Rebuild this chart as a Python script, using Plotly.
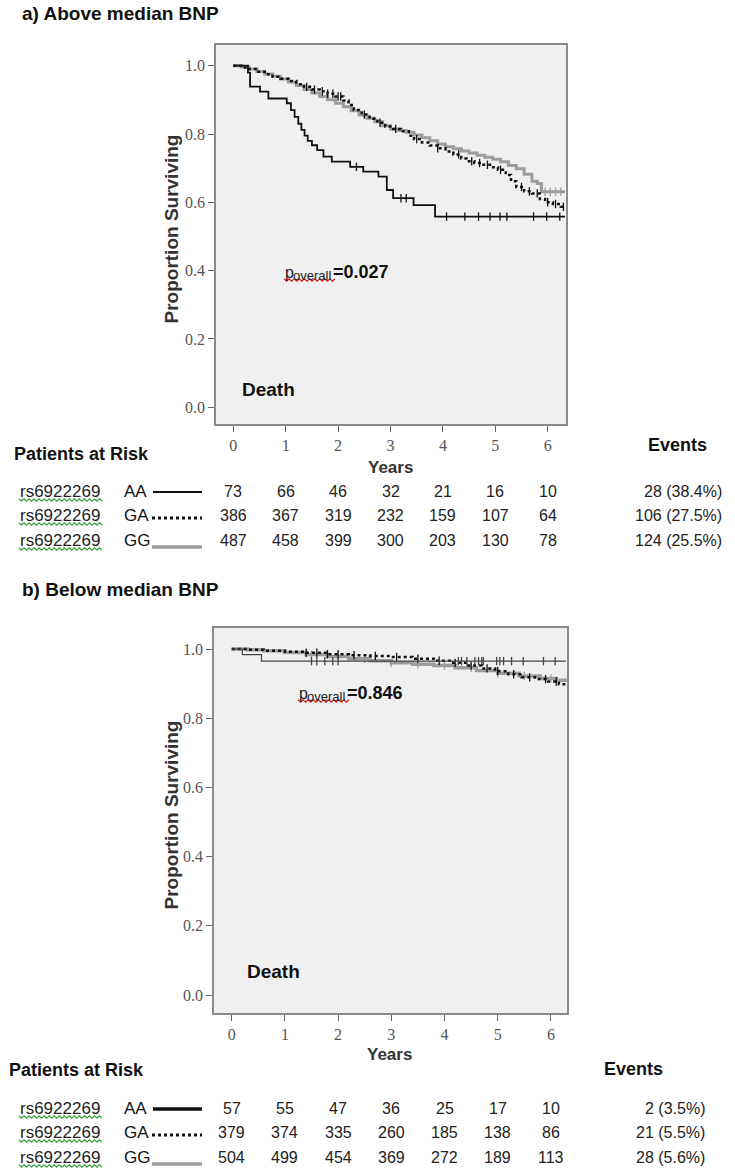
import numpy as np
import plotly.graph_objects as go

# ---------------- DATA ----------------
years_ticks = [0, 1, 2, 3, 4, 5, 6]
genotypes = ["AA", "GA", "GG"]
snp = "rs6922269"

# a) Above median BNP  (Kaplan-Meier step points: time, survival)
a_AA_t = [0, 0.28, 0.32, 0.51, 0.67, 1.02, 1.10, 1.17, 1.24, 1.30, 1.36, 1.42, 1.50, 1.60, 1.72, 1.88, 2.23, 2.48, 2.77, 2.93, 3.05, 3.44, 3.85, 6.33]
a_AA_s = [1.0, 0.980, 0.939, 0.924, 0.904, 0.890, 0.870, 0.850, 0.830, 0.812, 0.795, 0.780, 0.767, 0.753, 0.734, 0.719, 0.704, 0.690, 0.675, 0.636, 0.612, 0.592, 0.558, 0.558]
a_AA_cens = [2.35, 3.2, 3.3, 4.07, 4.42, 4.68, 4.90, 5.09, 5.22, 5.73, 5.98, 6.23]

a_GA_t = [0, 0.15, 0.30, 0.45, 0.60, 0.75, 0.90, 1.05, 1.20, 1.35, 1.50, 1.65, 1.80, 1.95, 2.10, 2.20, 2.30, 2.45, 2.60, 2.75, 2.90, 3.05, 3.20, 3.35, 3.45, 3.60, 3.75, 3.90, 4.05, 4.20, 4.35, 4.45, 4.60, 4.75, 4.90, 5.05, 5.20, 5.30, 5.40, 5.55, 5.70, 5.85, 5.95, 6.10, 6.25, 6.33]
a_GA_s = [1.0, 0.995, 0.990, 0.982, 0.975, 0.968, 0.962, 0.955, 0.946, 0.938, 0.930, 0.925, 0.918, 0.910, 0.898, 0.885, 0.870, 0.857, 0.845, 0.833, 0.822, 0.815, 0.808, 0.795, 0.785, 0.775, 0.766, 0.758, 0.749, 0.740, 0.728, 0.720, 0.715, 0.710, 0.703, 0.695, 0.680, 0.662, 0.645, 0.632, 0.626, 0.610, 0.600, 0.595, 0.587, 0.587]
a_GA_cens = [1.4, 1.55, 1.7, 1.8, 1.9, 2.0, 2.05, 2.5, 2.8, 3.1, 3.5, 3.9, 4.3, 4.55, 4.7, 4.85, 5.1, 5.5, 5.65, 5.8, 6.0, 6.15, 6.3]

a_GG_t = [0, 0.15, 0.30, 0.45, 0.60, 0.75, 0.90, 1.05, 1.20, 1.35, 1.50, 1.65, 1.80, 1.95, 2.10, 2.25, 2.40, 2.55, 2.70, 2.85, 3.00, 3.15, 3.30, 3.45, 3.60, 3.75, 3.90, 4.05, 4.20, 4.35, 4.50, 4.65, 4.80, 4.95, 5.10, 5.25, 5.40, 5.55, 5.70, 5.80, 5.88, 6.33]
a_GG_s = [1.0, 0.996, 0.990, 0.983, 0.976, 0.969, 0.961, 0.952, 0.942, 0.930, 0.920, 0.910, 0.900, 0.890, 0.880, 0.868, 0.856, 0.846, 0.836, 0.824, 0.815, 0.810, 0.805, 0.797, 0.789, 0.780, 0.771, 0.763, 0.757, 0.750, 0.744, 0.738, 0.732, 0.726, 0.719, 0.708, 0.698, 0.682, 0.662, 0.655, 0.631, 0.631]
a_GG_cens = [5.95, 6.05, 6.15, 6.25]

a_risk = {"AA": [73, 66, 46, 32, 21, 16, 10],
          "GA": [386, 367, 319, 232, 159, 107, 64],
          "GG": [487, 458, 399, 300, 203, 130, 78]}
a_events = {"AA": "28 (38.4%)", "GA": "106 (27.5%)", "GG": "124 (25.5%)"}
a_p = "0.027"

# b) Below median BNP
b_AA_t = [0, 0.20, 0.56, 6.28]
b_AA_s = [1.0, 0.984, 0.965, 0.965]
b_AA_cens = [1.5, 1.6, 1.75, 1.9, 2.0, 4.26, 4.32, 4.42, 4.57, 4.64, 4.70, 4.73, 4.98, 5.04, 5.11, 5.26, 5.48, 5.86, 6.08]

b_GA_t = [0, 0.3, 0.6, 1.0, 1.4, 1.8, 2.2, 2.6, 3.0, 3.4, 3.8, 4.1, 4.4, 4.7, 4.95, 5.2, 5.45, 5.7, 5.95, 6.15, 6.28]
b_GA_s = [1.0, 0.998, 0.995, 0.992, 0.989, 0.985, 0.982, 0.980, 0.977, 0.972, 0.966, 0.960, 0.952, 0.944, 0.936, 0.927, 0.918, 0.913, 0.906, 0.898, 0.890]
b_GA_cens = [1.4, 1.6, 1.8, 2.0, 2.3, 2.7, 3.1, 3.5, 3.9, 4.2, 4.5, 4.8, 5.0, 5.3, 5.6, 5.9, 6.1]

b_GG_t = [0, 0.3, 0.6, 1.0, 1.4, 1.8, 2.2, 2.6, 3.0, 3.4, 3.8, 4.2, 4.6, 5.0, 5.4, 5.8, 6.1, 6.28]
b_GG_s = [1.0, 0.998, 0.995, 0.990, 0.984, 0.978, 0.972, 0.966, 0.960, 0.956, 0.952, 0.946, 0.938, 0.930, 0.922, 0.915, 0.910, 0.905]
b_GG_cens = [1.5, 2.0, 2.5, 3.0, 3.5, 4.0, 4.5, 5.0, 5.5, 6.0]

b_risk = {"AA": [57, 55, 47, 36, 25, 17, 10],
          "GA": [379, 374, 335, 260, 185, 138, 86],
          "GG": [504, 499, 454, 369, 272, 189, 113]}
b_events = {"AA": "2 (3.5%)", "GA": "21 (5.5%)", "GG": "28 (5.6%)"}
b_p = "0.846"

# ---------------- LAYOUT HELPERS ----------------
W, H = 735, 1175
def X(px): return px / W
def Y(py): return 1 - py / H

BLACK = "#111111"
GRAY = "#9c9c9c"
SANS = "Liberation Sans, Arial, sans-serif"
SERIF = "Liberation Serif, DejaVu Serif, serif"

fig = go.Figure()

def step_at(t, s, x):
    idx = np.searchsorted(np.array(t), np.array(x), side="right") - 1
    return [s[i] for i in idx]

def add_curve(t, s, cens, color, width, dash, xa, ya):
    fig.add_trace(go.Scatter(x=t, y=s, mode="lines", line_shape="hv",
                             line=dict(color=color, width=width, dash=dash),
                             xaxis=xa, yaxis=ya, showlegend=False, hoverinfo="skip"))
    fig.add_trace(go.Scatter(x=cens, y=step_at(t, s, cens), mode="markers",
                             marker=dict(symbol="line-ns", size=6,
                                         line=dict(color=color, width=1.3)),
                             xaxis=xa, yaxis=ya, showlegend=False, hoverinfo="skip"))

# panel a
add_curve(a_GG_t, a_GG_s, a_GG_cens, GRAY, 3, "solid", "x", "y")
add_curve(a_GA_t, a_GA_s, a_GA_cens, BLACK, 2.5, "dot", "x", "y")
add_curve(a_AA_t, a_AA_s, a_AA_cens, BLACK, 1.8, "solid", "x", "y")
# panel b
add_curve(b_GG_t, b_GG_s, b_GG_cens, GRAY, 3.5, "solid", "x2", "y2")
add_curve(b_GA_t, b_GA_s, b_GA_cens, BLACK, 2.5, "dot", "x2", "y2")
add_curve(b_AA_t, b_AA_s, b_AA_cens, "#444444", 1.2, "solid", "x2", "y2")

axis_common = dict(showgrid=False, zeroline=False, showline=True, mirror=True,
                   linecolor="#8a8a8a", linewidth=1.5, ticks="outside", ticklen=6,
                   tickcolor="#666666", tickwidth=1.2,
                   tickfont=dict(family=SERIF, size=16, color="#555555"))

# panel geometry (pixels)
a_box = dict(l=216, r=566, t=45, b=424, x0px=233.3, xpy=52.4, y1px=65.7, ypu=341.5)
b_box = dict(l=214, r=567, t=628, b=1013, x0px=231.7, xpy=53.2, y1px=649.0, ypu=346.0)

def ranges(bx):
    xr = [(bx["l"] - bx["x0px"]) / bx["xpy"], (bx["r"] - bx["x0px"]) / bx["xpy"]]
    yr = [1 - (bx["b"] - bx["y1px"]) / bx["ypu"], 1 + (bx["y1px"] - bx["t"]) / bx["ypu"]]
    return xr, yr

axr, ayr = ranges(a_box)
bxr, byr = ranges(b_box)

fig.update_layout(
    width=W, height=H, margin=dict(l=0, r=0, t=0, b=0),
    paper_bgcolor="white", plot_bgcolor="#f0f0f0",
    xaxis=dict(domain=[X(a_box["l"]), X(a_box["r"])], range=axr, tickvals=years_ticks,
               anchor="y", **axis_common),
    yaxis=dict(domain=[Y(a_box["b"]), Y(a_box["t"])], range=ayr, tickvals=[0, 0.2, 0.4, 0.6, 0.8, 1.0],
               tickformat=".1f", anchor="x", **axis_common),
    xaxis2=dict(domain=[X(b_box["l"]), X(b_box["r"])], range=bxr, tickvals=years_ticks,
                anchor="y2", **axis_common),
    yaxis2=dict(domain=[Y(b_box["b"]), Y(b_box["t"])], range=byr, tickvals=[0, 0.2, 0.4, 0.6, 0.8, 1.0],
                tickformat=".1f", anchor="x2", **axis_common),
)

ann = []
shapes = []

def text(px, py, s, size=15, bold=True, anchor="left", color="#111111", family=SANS, angle=0):
    ann.append(dict(x=X(px), y=Y(py), xref="paper", yref="paper", text=(f"<b>{s}</b>" if bold else s),
                    showarrow=False, xanchor=anchor, yanchor="middle", textangle=angle,
                    font=dict(family=family, size=size, color=color)))

def squiggle(x0, x1, py, color):
    n = int((x1 - x0) / 2.5)
    pts = []
    for i in range(n + 1):
        xx = x0 + i * (x1 - x0) / n
        yy = py + (1.2 if i % 2 else -1.2)
        pts.append((X(xx), Y(yy)))
    path = "M " + " L ".join(f"{a:.5f},{b:.5f}" for a, b in pts)
    shapes.append(dict(type="path", path=path, xref="paper", yref="paper",
                       line=dict(color=color, width=1.2)))

def panel(title, title_y, bx, xref, p, p_px, p_py, death_px, death_py,
          years_py, par_px, par_py, ev_px, ev_py, rows_py, risk, events, ev_right, aa_width):
    text(20, title_y, title, size=19)
    cy = (bx["t"] + bx["b"]) / 2 - 5
    text(171, cy, "Proportion Surviving", size=19, color="#333333", anchor="center", angle=-90)
    text((bx["l"] + bx["r"]) / 2 - 1, years_py, "Years", size=17, color="#333333", anchor="center")
    # p overall (built from three plain text pieces)
    text(p_px, p_py, "p", size=16, bold=False, color="#222222")
    text(p_px + 8, p_py + 4, "overall", size=13, bold=False, color="#222222")
    text(p_px + 48, p_py, "=" + p, size=18)
    squiggle(p_px + 1, p_px + 52, p_py + 8, "#d02020")
    text(death_px, death_py, "Death", size=19)
    text(par_px, par_py, "Patients at Risk", size=18)
    text(ev_px, ev_py, "Events", size=18, anchor="center")
    for g, ry in zip(genotypes, rows_py):
        text(18, ry, snp, size=17, bold=False, color="#222222")
        squiggle(19, 102, ry + 9, "#3aa040")
        text(122, ry, g, size=17, bold=False, color="#111111")
        for i, v in enumerate(risk[g]):
            ann.append(dict(x=years_ticks[i], y=Y(ry), xref=xref, yref="paper", text=str(v),
                            showarrow=False, xanchor="center", yanchor="middle",
                            font=dict(family=SANS, size=16, color="#222222")))
        text(ev_right, ry, events[g], size=16, bold=False, anchor="right", color="#222222")
    # legend line samples
    ly = rows_py
    shapes.append(dict(type="line", xref="paper", yref="paper", x0=X(153), x1=X(202),
                       y0=Y(ly[0] + 1), y1=Y(ly[0] + 1), line=dict(color=BLACK, width=aa_width)))
    shapes.append(dict(type="line", xref="paper", yref="paper", x0=X(152), x1=X(202),
                       y0=Y(ly[1] + 3), y1=Y(ly[1] + 3), line=dict(color=BLACK, width=3, dash="dot")))
    shapes.append(dict(type="line", xref="paper", yref="paper", x0=X(152), x1=X(202),
                       y0=Y(ly[2] + 7), y1=Y(ly[2] + 7), line=dict(color=GRAY, width=3.5)))

panel("a) Above median BNP", 14, a_box, "x", a_p, 283, 272, 240, 389,
      467, 12, 454, 677, 445, [491, 515, 540], a_risk, a_events, 724, 1.8)
panel("b) Below median BNP", 590, b_box, "x2", b_p, 297, 693, 245, 972,
      1054, 7, 1070, 633, 1069, [1108, 1132, 1157], b_risk, b_events, 707, 3.5)

fig.update_layout(annotations=ann, shapes=shapes)
fig.write_html("out.html", config={"displayModeBar": False},
               post_script="document.body.style.margin='0';")
